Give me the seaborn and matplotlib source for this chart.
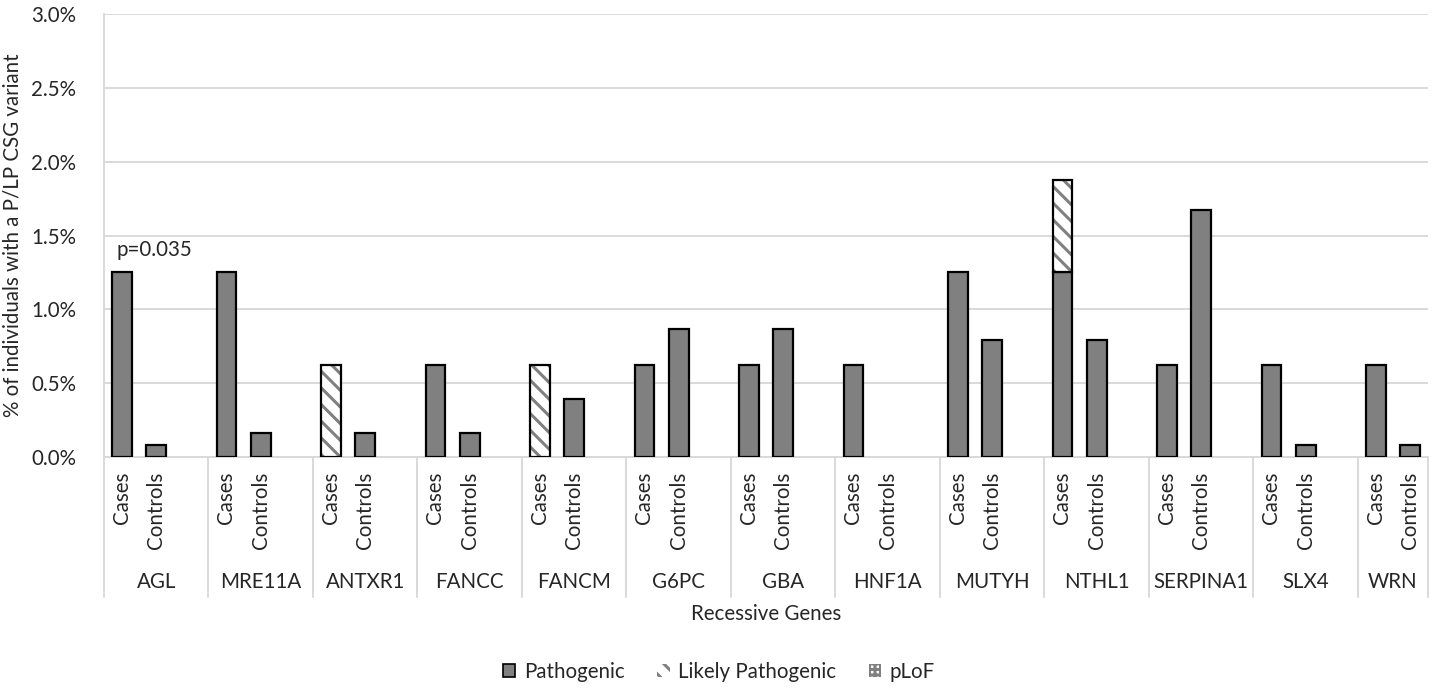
import matplotlib
matplotlib.use("Agg")
import matplotlib.pyplot as plt
import matplotlib.patches as mpatches
import matplotlib.transforms as mtransforms
import numpy as np
import pandas as pd
import seaborn as sns

# values (% of individuals)
genes = ['AGL', 'MRE11A', 'ANTXR1', 'FANCC', 'FANCM', 'G6PC', 'GBA',
         'HNF1A', 'MUTYH', 'NTHL1', 'SERPINA1', 'SLX4', 'WRN']
cases_pathogenic = [1.25, 1.25, 0, 0.625, 0, 0.625, 0.625, 0.625, 1.25, 1.25, 0.625, 0.625, 0.625]
cases_likely = [0, 0, 0.625, 0, 0.625, 0, 0, 0, 0, 0.625, 0, 0, 0]
controls_pathogenic = [0.08, 0.16, 0.16, 0.16, 0.39, 0.87, 0.87, 0, 0.79, 0.79, 1.67, 0.08, 0.08]
groups = ['Cases', 'Controls']
p_note = 'p=0.035'

sns.set_style('white')
plt.rcParams['font.family'] = ['Lato', 'DejaVu Sans']
plt.rcParams['hatch.linewidth'] = 2.2

GREY = '#808080'
GRID = '#d9d9d9'
FS = 14.8
case_off, ctrl_off, bw = 0.172, 0.50, 0.19
x_end = 12.67

rows = []
for i, g in enumerate(genes):
    rows.append({'gene': g, 'group': 'Cases', 'pos': i + case_off, 'val': cases_pathogenic[i]})
    rows.append({'gene': g, 'group': 'Controls', 'pos': i + ctrl_off, 'val': controls_pathogenic[i]})
df = pd.DataFrame(rows)
df = df[df['val'] > 0]

fig = plt.figure(figsize=(14.32, 6.9), dpi=100)
ax = fig.add_axes([104/1432, 1 - 457/690, (1428 - 104)/1432, 443/690])

sns.barplot(data=df, x='pos', y='val', native_scale=True, color=GREY,
            saturation=1, edgecolor='black', linewidth=1.6, ax=ax, zorder=3)
# put each bar exactly at its position / width
for p, x in zip(ax.patches, df['pos']):
    p.set_x(x - bw / 2)
    p.set_width(bw)
    p.set_facecolor(GREY)

# likely pathogenic, stacked on top of pathogenic (cases only)
lp = np.array(cases_likely)
base = np.array(cases_pathogenic)
idx = np.where(lp > 0)[0]
ax.bar(idx + case_off, lp[idx], bottom=base[idx], width=bw, color='white',
       edgecolor=GREY, hatch='\\\\', linewidth=0, zorder=3)
ax.bar(idx + case_off, lp[idx], bottom=base[idx], width=bw, fill=False,
       edgecolor='black', linewidth=1.6, zorder=4)

ax.set_xlim(0, x_end)
ax.set_ylim(0, 3.0)
ax.set_yticks(np.arange(0, 3.01, 0.5))
ax.set_yticklabels(['{:.1f}%'.format(v) for v in np.arange(0, 3.01, 0.5)], fontsize=FS)
ax.tick_params(axis='y', length=0, pad=20)
ax.yaxis.grid(True, color=GRID, linewidth=1.4, zorder=0)
ax.set_axisbelow(True)
ax.set_xticks([])
ax.set_xlabel('')
ax.set_ylabel('% of individuals with a P/LP CSG variant', fontsize=FS, labelpad=6)
for s in ['top', 'right']:
    ax.spines[s].set_visible(False)
for s in ['left', 'bottom']:
    ax.spines[s].set_color(GRID)
    ax.spines[s].set_linewidth(1.4)

# multi-level category axis
trans = mtransforms.blended_transform_factory(ax.transData, ax.transAxes)
for b in list(range(len(genes))) + [x_end]:
    ax.plot([b, b], [0, -0.316], transform=trans, color=GRID, lw=1.4, clip_on=False)
for i, g in enumerate(genes):
    for off, lab in zip([case_off, ctrl_off], groups):
        ax.text(i + off, -0.034, lab, transform=trans, rotation=90,
                ha='center', va='top', fontsize=FS)
    ctr = (i + min(i + 1, x_end)) / 2
    ax.text(ctr, -0.282, g, transform=trans, ha='center', va='center', fontsize=FS)
ax.text(x_end / 2, -0.354, 'Recessive Genes', transform=trans, ha='center',
        va='center', fontsize=FS)

ax.text(0.12, 1.40, p_note, ha='left', va='center', fontsize=FS)

handles = [
    mpatches.Patch(facecolor=GREY, edgecolor='black', linewidth=1.2, label='Pathogenic'),
    mpatches.Patch(facecolor='white', edgecolor=GREY, hatch='\\\\', linewidth=0, label='Likely Pathogenic'),
    mpatches.Patch(facecolor='white', edgecolor=GREY, hatch='|||---', linewidth=0, label='pLoF'),
]
fig.legend(handles=handles, loc='center', bbox_to_anchor=(0.502, 0.026), ncol=3,
           frameon=False, fontsize=FS, handlelength=0.6, handleheight=0.6,
           handletextpad=0.4, columnspacing=1.6)

fig.savefig('out.png', dpi=100)
